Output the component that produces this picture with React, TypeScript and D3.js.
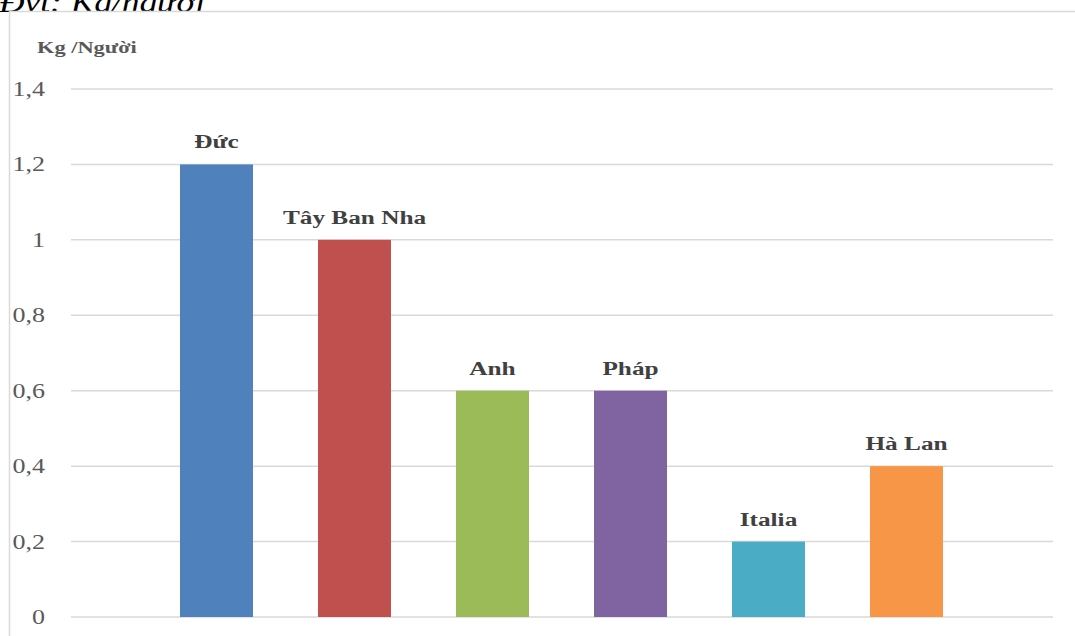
import React from "react";
import * as d3 from "d3";

const countries = ["Đức", "Tây Ban Nha", "Anh", "Pháp", "Italia", "Hà Lan"];
const values = [1.2, 1.0, 0.6, 0.6, 0.2, 0.4];
const colors = ["#4f81bd", "#c0504d", "#9bbb59", "#8064a2", "#4bacc6", "#f79646"];
const yTicks = [0, 0.2, 0.4, 0.6, 0.8, 1, 1.2, 1.4];
const unitTitle = "Đvt: Kg/người";
const axisTitle = "Kg /Người";

const W = 1075;
const H = 636;
const serif = "'Liberation Serif', 'Times New Roman', serif";

export default function App() {
  const y = d3.scaleLinear().domain([0, 1.4]).range([617, 89]);
  const x = d3
    .scaleBand<string>()
    .domain(countries)
    .range([147.5, 975.5])
    .paddingInner(1 - 73 / 138)
    .paddingOuter((1 - 73 / 138) / 2);
  const fmt = (v: number) => String(v).replace(".", ",");

  return (
    <svg
      width={W}
      height={H}
      style={{ position: "absolute", left: 0, top: 0, background: "#fff" }}
    >
      <text
        transform="translate(-1,12) scale(1.22,1)"
        fontFamily={serif}
        fontStyle="italic"
        fontSize={29}
        fill="#000"
      >
        {unitTitle}
      </text>
      <rect x={9.5} y={11.5} width={W + 10} height={H + 10} fill="#fff" stroke="#d9d9d9" strokeWidth={1.5} />
      <text
        transform="translate(37,53) scale(1.4,1)"
        fontFamily={serif}
        fontWeight="bold"
        fontSize={16}
        fill="#595959"
      >
        {axisTitle}
      </text>
      {yTicks.map((t) => (
        <g key={t}>
          <line x1={71} x2={1053} y1={y(t)} y2={y(t)} stroke="#d9d9d9" strokeWidth={1.5} />
          <text
            transform={`translate(45,${y(t)}) scale(1.3,1)`}
            dy="0.35em"
            textAnchor="end"
            fontFamily={serif}
            fontSize={20}
            fill="#595959"
          >
            {fmt(t)}
          </text>
        </g>
      ))}
      {countries.map((c, i) => (
        <g key={c}>
          <rect
            x={x(c)}
            y={y(values[i])}
            width={x.bandwidth()}
            height={y(0) - y(values[i])}
            fill={colors[i]}
          />
          <text
            transform={`translate(${(x(c) as number) + x.bandwidth() / 2},${y(values[i]) - 16}) scale(1.33,1)`}
            textAnchor="middle"
            fontFamily={serif}
            fontWeight="bold"
            fontSize={19}
            fill="#404040"
          >
            {c}
          </text>
        </g>
      ))}
    </svg>
  );
}
